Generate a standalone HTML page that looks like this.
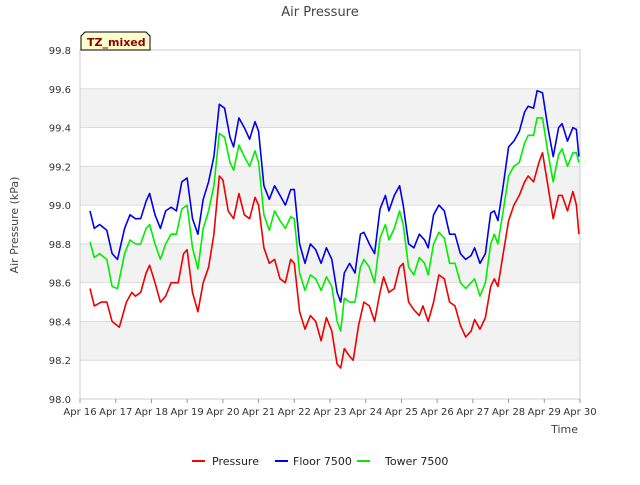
<!DOCTYPE html>
<html><head><meta charset="utf-8"><style>
body{margin:0;background:#fff;font-family:"Liberation Sans","DejaVu Sans",sans-serif;}
svg text{font-family:"DejaVu Sans","Liberation Sans",sans-serif;}
</style></head><body>
<svg id="chart" width="640" height="480" xmlns="http://www.w3.org/2000/svg">
<text x="320" y="16" text-anchor="middle" font-size="13" fill="#444">Air Pressure</text>
<g id="grid"></g>
<g id="axes"></g>
<g id="series"></g>
<text transform="translate(18,225) rotate(-90)" text-anchor="middle" font-size="11" fill="#444">Air Pressure (kPa)</text>
<text x="578" y="433" text-anchor="end" font-size="11" fill="#444">Time</text>
<g>
<path d="M81,50 L81,36 L85,32 L146,32 L150,36 L150,50 Z" fill="#ffffcc" stroke="#000" stroke-width="1"/>
<text x="87" y="46" font-size="11" font-weight="bold" fill="#8b0000">TZ_mixed</text>
</g>
<g>
<g><line x1="192" y1="461" x2="205" y2="461" stroke="#ff0000" stroke-width="2"/><text x="212" y="465" font-size="11" fill="#222">Pressure</text></g>
<g><line x1="275" y1="461" x2="288" y2="461" stroke="#0000ff" stroke-width="2"/><text x="293" y="465" font-size="11" fill="#222">Floor 7500</text></g>
<g><line x1="357" y1="461" x2="370" y2="461" stroke="#00ee00" stroke-width="2"/><text x="385" y="465" font-size="11" fill="#222">Tower 7500</text></g>
</g>
</svg>
<script>
const xTickLabels=["Apr 16","Apr 17","Apr 18","Apr 19","Apr 20","Apr 21","Apr 22","Apr 23","Apr 24","Apr 25","Apr 26","Apr 27","Apr 28","Apr 29","Apr 30"];
const yTicks=[98.0,98.2,98.4,98.6,98.8,99.0,99.2,99.4,99.6,99.8];
const pressureT=[16.28,16.4,16.6,16.75,16.9,17.1,17.3,17.45,17.55,17.7,17.85,17.95,18.1,18.25,18.4,18.55,18.75,18.9,19.0,19.15,19.3,19.45,19.6,19.75,19.9,20.0,20.15,20.3,20.45,20.6,20.75,20.9,21.0,21.15,21.3,21.45,21.6,21.75,21.9,22.0,22.15,22.3,22.45,22.6,22.75,22.9,23.05,23.2,23.3,23.4,23.55,23.65,23.8,23.95,24.1,24.25,24.4,24.5,24.65,24.8,24.95,25.05,25.2,25.35,25.5,25.6,25.75,25.9,26.05,26.2,26.35,26.5,26.65,26.8,26.95,27.05,27.2,27.35,27.5,27.6,27.7,27.85,28.0,28.15,28.3,28.45,28.55,28.7,28.85,28.95,29.1,29.25,29.4,29.5,29.65,29.8,29.9,29.97];
const pressureV=[98.57,98.48,98.50,98.50,98.40,98.37,98.50,98.55,98.53,98.55,98.65,98.69,98.60,98.50,98.53,98.60,98.60,98.75,98.77,98.55,98.45,98.60,98.68,98.85,99.15,99.13,98.97,98.93,99.06,98.95,98.93,99.04,99.00,98.78,98.70,98.72,98.62,98.60,98.72,98.70,98.45,98.36,98.43,98.40,98.30,98.42,98.35,98.18,98.16,98.26,98.22,98.20,98.38,98.50,98.48,98.40,98.55,98.63,98.55,98.57,98.68,98.70,98.50,98.46,98.43,98.48,98.40,98.50,98.64,98.62,98.50,98.48,98.38,98.32,98.35,98.41,98.36,98.42,98.58,98.62,98.58,98.75,98.92,99.00,99.05,99.12,99.15,99.12,99.22,99.27,99.10,98.93,99.05,99.05,98.97,99.07,99.00,98.85];
const otherT=[16.28,16.4,16.55,16.75,16.9,17.05,17.25,17.4,17.55,17.7,17.85,17.95,18.1,18.25,18.4,18.55,18.7,18.85,19.0,19.15,19.3,19.45,19.6,19.75,19.9,20.05,20.2,20.3,20.45,20.6,20.75,20.9,21.0,21.15,21.3,21.45,21.6,21.75,21.9,22.0,22.15,22.3,22.45,22.6,22.75,22.9,23.05,23.2,23.3,23.4,23.55,23.7,23.85,23.95,24.1,24.25,24.4,24.55,24.65,24.8,24.95,25.05,25.2,25.35,25.5,25.65,25.75,25.9,26.05,26.2,26.35,26.5,26.65,26.8,26.95,27.05,27.2,27.35,27.5,27.6,27.7,27.85,28.0,28.15,28.3,28.45,28.55,28.7,28.8,28.95,29.1,29.25,29.4,29.5,29.65,29.8,29.9,29.97];
const floorV=[98.97,98.88,98.90,98.87,98.75,98.72,98.88,98.95,98.93,98.93,99.02,99.06,98.95,98.88,98.97,98.99,98.97,99.12,99.14,98.93,98.85,99.03,99.12,99.25,99.52,99.50,99.35,99.30,99.45,99.40,99.34,99.43,99.38,99.10,99.03,99.10,99.05,99.00,99.08,99.08,98.80,98.70,98.80,98.77,98.70,98.78,98.72,98.55,98.50,98.65,98.70,98.65,98.85,98.86,98.80,98.75,98.98,99.05,98.97,99.05,99.10,99.00,98.80,98.78,98.85,98.82,98.78,98.95,99.00,98.97,98.85,98.85,98.75,98.72,98.74,98.78,98.70,98.75,98.96,98.97,98.92,99.10,99.30,99.33,99.38,99.48,99.51,99.50,99.59,99.58,99.40,99.25,99.40,99.42,99.33,99.40,99.39,99.25];
const towerV=[98.81,98.73,98.75,98.72,98.58,98.57,98.75,98.82,98.80,98.80,98.88,98.90,98.80,98.72,98.80,98.85,98.85,98.98,99.00,98.78,98.67,98.88,98.97,99.10,99.37,99.35,99.22,99.18,99.31,99.25,99.20,99.28,99.22,98.95,98.87,98.97,98.92,98.88,98.94,98.93,98.65,98.56,98.64,98.62,98.56,98.63,98.58,98.40,98.35,98.52,98.50,98.50,98.68,98.72,98.68,98.60,98.83,98.90,98.82,98.88,98.97,98.90,98.68,98.64,98.73,98.70,98.64,98.80,98.86,98.83,98.70,98.70,98.60,98.57,98.60,98.62,98.53,98.60,98.80,98.85,98.80,98.97,99.15,99.20,99.22,99.32,99.36,99.36,99.45,99.45,99.27,99.12,99.26,99.29,99.20,99.27,99.27,99.22];

const NS="http://www.w3.org/2000/svg";
const X0=80,X1=580,Y0=399,Y1=50,D0=16,D1=30,V0=98.0,V1=99.8;
function xs(d){return X0+(d-D0)/(D1-D0)*(X1-X0);}
function ys(v){return Y0-(v-V0)/(V1-V0)*(Y0-Y1);}
function mk(tag,attrs,parent){const e=document.createElementNS(NS,tag);for(const k in attrs)e.setAttribute(k,attrs[k]);parent.appendChild(e);return e;}
const grid=document.getElementById('grid'),axes=document.getElementById('axes'),ser=document.getElementById('series');
for(let i=0;i<yTicks.length-1;i++){
  if(i%2===1){const r=mk('rect',{x:X0,y:ys(yTicks[i+1]),width:X1-X0,height:ys(yTicks[i])-ys(yTicks[i+1]),fill:'#f2f2f2'},grid);
  
  }
}
yTicks.forEach(v=>{
  const l=mk('line',{x1:X0,x2:X1,y1:ys(v),y2:ys(v),stroke:'#dddddd','stroke-width':1},grid);
  
  
  const t=mk('text',{x:X0-9,y:ys(v)+4,'text-anchor':'end','font-size':10,fill:'#333'},axes);
  t.textContent=v.toFixed(1);
  
  
});
const b=mk('rect',{x:X0,y:Y1,width:X1-X0,height:Y0-Y1,fill:'none',stroke:'#cccccc'},axes);


xTickLabels.forEach((s,i)=>{
  const x=xs(D0+i);
  const tk=mk('line',{x1:x,x2:x,y1:Y0,y2:Y0+4,stroke:'#999'},axes);
  
  
  const t=mk('text',{x:x,y:Y0+16,'text-anchor':'middle','font-size':10,fill:'#333'},axes);
  t.textContent=s;
  
  
});
function line(T,V,color,name){
  const d=T.map((t,i)=>(i?'L':'M')+xs(t).toFixed(1)+','+ys(V[i]).toFixed(1)).join(' ');
  const p=mk('path',{d:d,fill:'none',stroke:color,'stroke-width':1.6,'stroke-linejoin':'round'},ser);
  
  
}
line(otherT,towerV,'#00ee00','tower-7500-line');
line(otherT,floorV,'#0000ee','floor-7500-line');
line(pressureT,pressureV,'#ee0000','pressure-line');
</script>
</body></html>
